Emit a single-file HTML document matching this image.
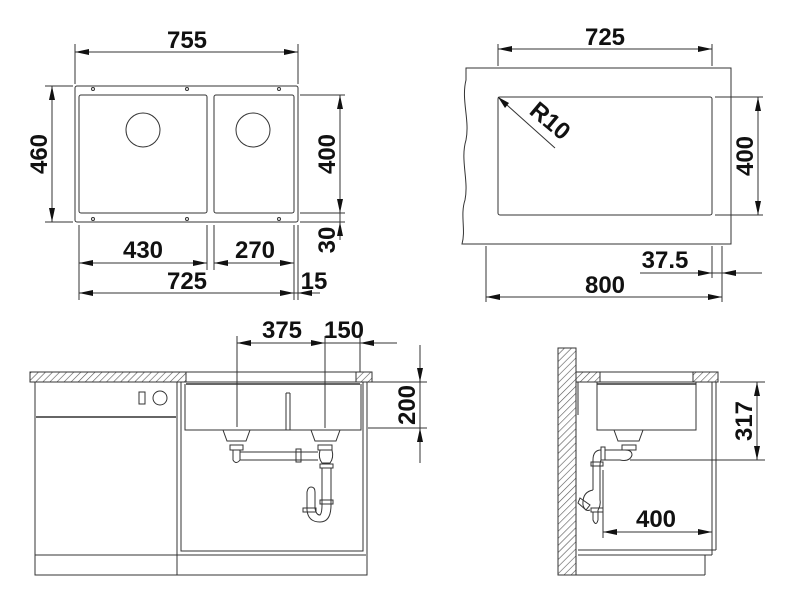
<!DOCTYPE html>
<html><head><style>
html,body{margin:0;padding:0;background:#fff;}
svg{display:block;}
text{font-family:"Liberation Sans",Arial,sans-serif;font-weight:bold;font-size:24px;fill:#111;}
</style></head><body>
<svg width="800" height="600" viewBox="0 0 800 600" xmlns="http://www.w3.org/2000/svg">
<defs>
<pattern id="h" width="5" height="5" patternUnits="userSpaceOnUse" patternTransform="rotate(45)">
<rect width="5" height="5" fill="#fff"/><line x1="0" y1="0" x2="0" y2="5" stroke="#555" stroke-width="1.2"/>
</pattern>
</defs>
<g fill="none" stroke="#333" stroke-width="1">
<!-- TOP LEFT -->
<rect x="75" y="86" width="223" height="136" rx="2"/>
<rect x="79" y="95" width="128" height="118" rx="2"/>
<rect x="214" y="95" width="80" height="118" rx="2"/>
<circle cx="143" cy="130" r="17"/><circle cx="253" cy="130" r="17"/>
<circle cx="93" cy="89" r="1.5"/><circle cx="187" cy="89" r="1.5"/><circle cx="279" cy="89" r="1.5"/>
<circle cx="93" cy="219" r="1.5"/><circle cx="187" cy="219" r="1.5"/><circle cx="279" cy="219" r="1.5"/>
<line x1="75" y1="44" x2="75" y2="84"/><line x1="298" y1="44" x2="298" y2="84"/>
<line x1="75" y1="52" x2="298" y2="52"/>
<line x1="45" y1="86" x2="73" y2="86"/><line x1="45" y1="222" x2="73" y2="222"/>
<line x1="52" y1="86" x2="52" y2="222"/>
<line x1="300" y1="95" x2="345" y2="95"/><line x1="300" y1="213" x2="345" y2="213"/><line x1="300" y1="222" x2="345" y2="222"/>
<line x1="340" y1="95" x2="340" y2="240"/>
<line x1="79" y1="225" x2="79" y2="300"/><line x1="207" y1="225" x2="207" y2="270"/><line x1="214" y1="225" x2="214" y2="270"/>
<line x1="294" y1="225" x2="294" y2="300"/><line x1="298" y1="225" x2="298" y2="300"/>
<line x1="79" y1="263" x2="207" y2="263"/><line x1="214" y1="263" x2="294" y2="263"/>
<line x1="79" y1="293" x2="320" y2="293"/>
<!-- TOP RIGHT -->
<path d="M466,68 L731,68 L731,244 L462,244 C466,230 460,215 465,200 C469,180 460,160 466,140 C470,120 461,100 466,80 Z"/>
<rect x="498" y="97" width="214" height="118" rx="2"/>
<line x1="498" y1="44" x2="498" y2="66"/><line x1="712" y1="44" x2="712" y2="66"/>
<line x1="498" y1="49" x2="712" y2="49"/>
<line x1="715" y1="97" x2="763" y2="97"/><line x1="715" y1="215" x2="763" y2="215"/>
<line x1="758" y1="97" x2="758" y2="215"/>
<line x1="555" y1="148" x2="498" y2="97"/>
<line x1="712" y1="246" x2="712" y2="278"/><line x1="722" y1="246" x2="722" y2="302"/><line x1="486" y1="246" x2="486" y2="302"/>
<line x1="640" y1="273" x2="762" y2="273"/>
<line x1="486" y1="297" x2="722" y2="297"/>
<!-- BOTTOM LEFT -->
<line x1="237" y1="336" x2="237" y2="427"/><line x1="325" y1="336" x2="325" y2="428"/><line x1="360" y1="336" x2="360" y2="372"/>
<line x1="237" y1="343" x2="397" y2="343"/>
<rect x="30" y="372" width="156" height="10" fill="url(#h)"/>
<rect x="186" y="372" width="170" height="10"/>
<rect x="356" y="372" width="16" height="10" fill="url(#h)"/>
<rect x="35" y="382" width="142" height="193"/>
<line x1="36" y1="417" x2="176" y2="417" stroke="#666" stroke-width="2"/>
<line x1="35" y1="555" x2="366" y2="555"/>
<rect x="139" y="392" width="6" height="12"/><circle cx="160" cy="398" r="7"/>
<rect x="177" y="382" width="190" height="193"/>
<polyline points="181,382 181,551 363,551 363,382"/>
<polyline points="185,384 185,430 361,430 361,384"/>
<line x1="186" y1="384" x2="360" y2="384" stroke-width="1.5"/>
<line x1="286" y1="393" x2="286" y2="430"/><line x1="290" y1="393" x2="290" y2="430"/><line x1="286" y1="393" x2="290" y2="393"/>
<path d="M223,430 L250,430 L246,441 L227,441 Z"/>
<rect x="230" y="445" width="13" height="5"/>
<path d="M233,450 L233,460 Q236,465 240,460 L240,450"/>
<line x1="240" y1="452" x2="318" y2="452"/><line x1="240" y1="460" x2="318" y2="460"/>
<rect x="296" y="449" width="5" height="13"/>
<path d="M311,430 L340,430 L336,441 L315,441 Z"/>
<rect x="318" y="445" width="14" height="5"/>
<path d="M320,450 Q318,458 322,463 L330,463 Q334,458 332,450"/>
<rect x="320" y="464" width="13" height="4"/>
<line x1="322" y1="468" x2="322" y2="505"/><line x1="331" y1="468" x2="331" y2="505"/>
<rect x="320" y="500" width="13" height="4"/>
<path d="M331,505 Q331,522 320,522 Q308,522 307,510 L307,492 Q308,487 311,487 Q315,487 315,492 L315,508 Q316,515 320,515 Q322,513 322,505"/>
<rect x="303" y="508" width="13" height="4"/>
<line x1="372" y1="382" x2="427" y2="382"/><line x1="368" y1="428" x2="427" y2="428"/>
<line x1="420" y1="345" x2="420" y2="463"/>
<!-- BOTTOM RIGHT -->
<rect x="558" y="348" width="18" height="227" fill="url(#h)"/>
<rect x="576" y="372" width="24" height="10" fill="url(#h)"/>
<rect x="600" y="372" width="93" height="10"/>
<rect x="693" y="372" width="25" height="10" fill="url(#h)"/>
<line x1="578" y1="382" x2="578" y2="415"/>
<polyline points="597,382 597,430 696,430 696,382"/>
<line x1="597" y1="384" x2="696" y2="384" stroke-width="1.5"/>
<path d="M614,430 L643,430 L639,441 L618,441 Z"/>
<rect x="622" y="445" width="14" height="5"/>
<path d="M605,450 L625,450 Q632,450 632,455 Q630,462 620,460 L605,460"/>
<rect x="601" y="447" width="4" height="13"/>
<path d="M593,460 Q593,450 601,450 M601,460 Q600,462 600,465 L600,500 Q601,505 598,510 M593,460 L593,490"/>
<rect x="591" y="462" width="12" height="4"/>
<path d="M593,490 Q582,492 583,505 Q585,512 590,510"/>
<path d="M598,510 L598,520 Q596,527 593,520 L593,512"/>
<path d="M580,498 L590,505 L586,510 L578,503 Z"/>
<rect x="591" y="508" width="12" height="4"/>
<line x1="712" y1="382" x2="712" y2="555"/><line x1="716" y1="382" x2="716" y2="550"/>
<line x1="578" y1="550" x2="716" y2="550"/><line x1="578" y1="555" x2="712" y2="555"/>
<line x1="705" y1="555" x2="705" y2="575"/><line x1="576" y1="575" x2="705" y2="575"/>
<line x1="720" y1="382" x2="765" y2="382"/><line x1="630" y1="460" x2="765" y2="460"/>
<line x1="757" y1="382" x2="757" y2="460"/>
<line x1="603" y1="470" x2="603" y2="538"/>
<line x1="603" y1="532" x2="712" y2="532"/>
</g>
<g fill="#111">
<path d="M75,52l14,-3v6z M298,52l-14,-3v6z"/>
<path d="M52,86l-3,14h6z M52,222l-3,-14h6z"/>
<path d="M340,95l-3,14h6z M340,213l-3,-14h6z M340,222l-3,14h6z"/>
<path d="M79,263l14,-3v6z M207,263l-14,-3v6z M214,263l14,-3v6z M294,263l-14,-3v6z"/>
<path d="M79,293l14,-3v6z M294,293l-14,-3v6z M298,293l14,-3v6z"/>
<path d="M498,49l14,-3v6z M712,49l-14,-3v6z"/>
<path d="M758,97l-3,14h6z M758,215l-3,-14h6z"/>
<path d="M498,97l7,11l4,-5z"/>
<path d="M712,273l-14,-3v6z M722,273l14,-3v6z"/>
<path d="M486,297l14,-3v6z M722,297l-14,-3v6z"/>
<path d="M237,343l14,-3v6z M325,343l-14,-3v6z M360,343l14,-3v6z"/>
<path d="M420,382l-3,-14h6z M420,428l-3,14h6z"/>
<path d="M757,382l-3,14h6z M757,460l-3,-14h6z"/>
<path d="M603,532l14,-3v6z M712,532l-14,-3v6z"/>
</g>
<text x="187" y="48" text-anchor="middle">755</text>
<text transform="translate(47,154) rotate(-90)" text-anchor="middle">460</text>
<text transform="translate(335,154) rotate(-90)" text-anchor="middle">400</text>
<text transform="translate(335,240) rotate(-90)" text-anchor="middle">30</text>
<text x="143" y="258" text-anchor="middle">430</text>
<text x="255" y="258" text-anchor="middle">270</text>
<text x="187" y="289" text-anchor="middle">725</text>
<text x="314" y="289" text-anchor="middle">15</text>
<text x="605" y="45" text-anchor="middle">725</text>
<text transform="translate(545,127) rotate(40)" text-anchor="middle">R10</text>
<text transform="translate(753,156) rotate(-90)" text-anchor="middle">400</text>
<text x="665" y="268" text-anchor="middle">37.5</text>
<text x="605" y="293" text-anchor="middle">800</text>
<text x="282" y="338" text-anchor="middle">375</text>
<text x="344" y="338" text-anchor="middle">150</text>
<text transform="translate(415,405) rotate(-90)" text-anchor="middle">200</text>
<text transform="translate(752,421) rotate(-90)" text-anchor="middle">317</text>
<text x="656" y="527" text-anchor="middle">400</text>
</svg>
</body></html>
